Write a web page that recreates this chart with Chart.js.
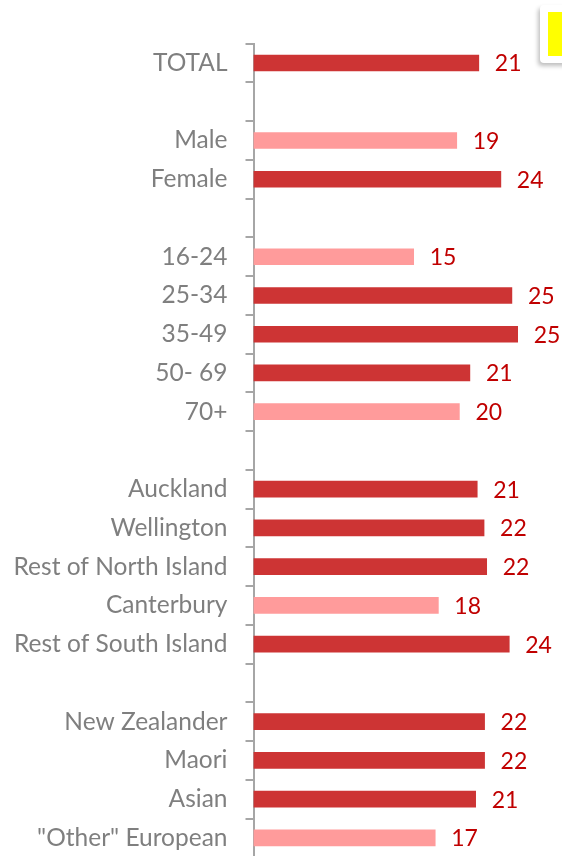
<!DOCTYPE html>
<html>
<head>
<meta charset="utf-8">
<script src="https://cdn.jsdelivr.net/npm/chart.js@4.4.1/dist/chart.umd.min.js"></script>
<style>
  html, body { margin: 0; padding: 0; background: #ffffff; overflow: hidden; }
  #wrap { position: relative; width: 562px; height: 890px; }
  #note { position: absolute; left: 540px; top: 5px; width: 30px; height: 58px; background: #fff;
          border-radius: 4px; box-shadow: -2px 3px 4px rgba(0,0,0,0.25); }
  #note div { position: absolute; left: 8px; top: 7px; width: 20px; height: 44px; background: #ffff00; }
</style>
</head>
<body>
<div id="wrap">
  <canvas id="c" width="562" height="890"></canvas>
  <div id="note"><div></div></div>
</div>
<script>
// Categories (blank strings are spacer rows between groups)
const categories = [
  'TOTAL', '',
  'Male', 'Female', '',
  '16-24', '25-34', '35-49', '50- 69', '70+', '',
  'Auckland', 'Wellington', 'Rest of North Island', 'Canterbury', 'Rest of South Island', '',
  'New Zealander', 'Maori', 'Asian', '"Other" European'
];
// Values (%)
const values = [
  21.45, null,
  19.35, 23.55, null,
  15.25, 24.6, 25.15, 20.6, 19.6, null,
  21.3, 21.95, 22.2, 17.6, 24.35, null,
  22.0, 22.0, 21.15, 17.3
];
// Which bars are shown in the lighter shade
const lighter = [
  false, false,
  true, false, false,
  true, false, false, false, true, false,
  false, false, false, true, false, false,
  false, false, false, true
];

const DARK = '#CD3434';
const LIGHT = '#FF9B9B';
const FONT = 'Lato, "Open Sans", sans-serif';

const valueLabels = {
  id: 'valueLabels',
  afterDatasetsDraw(chart) {
    const ctx = chart.ctx;
    const meta = chart.getDatasetMeta(0);
    ctx.save();
    ctx.font = '23px ' + FONT;
    ctx.fillStyle = '#C00000';
    ctx.textAlign = 'left';
    ctx.textBaseline = 'middle';
    meta.data.forEach((bar, i) => {
      const v = values[i];
      if (v === null || v === undefined) return;
      ctx.fillText(String(Math.round(v)), bar.x + 16, bar.y + 1);
    });
    ctx.restore();
  }
};

new Chart(document.getElementById('c'), {
  type: 'bar',
  data: {
    labels: categories,
    datasets: [{
      data: values,
      backgroundColor: lighter.map(l => l ? LIGHT : DARK),
      barThickness: 16,
      borderWidth: 0
    }]
  },
  options: {
    indexAxis: 'y',
    responsive: false,
    animation: false,
    events: [],
    layout: { padding: { top: 43.6, bottom: 0, left: 0, right: 0 } },
    plugins: { legend: { display: false }, tooltip: { enabled: false } },
    scales: {
      x: { display: false, min: 0, max: 29.37 },
      y: {
        afterFit(scale) { scale.width = 253.5; },
        border: { display: true, color: '#A6A6A6', width: 2 },
        grid: { display: true, drawOnChartArea: false, drawTicks: true, tickLength: 8,
                color: '#A6A6A6', lineWidth: 2, offset: true },
        ticks: { color: '#7F7F7F', padding: 18, font: { family: FONT, size: 24.5 }, autoSkip: false }
      }
    }
  },
  plugins: [valueLabels]
});
</script>
</body>
</html>
